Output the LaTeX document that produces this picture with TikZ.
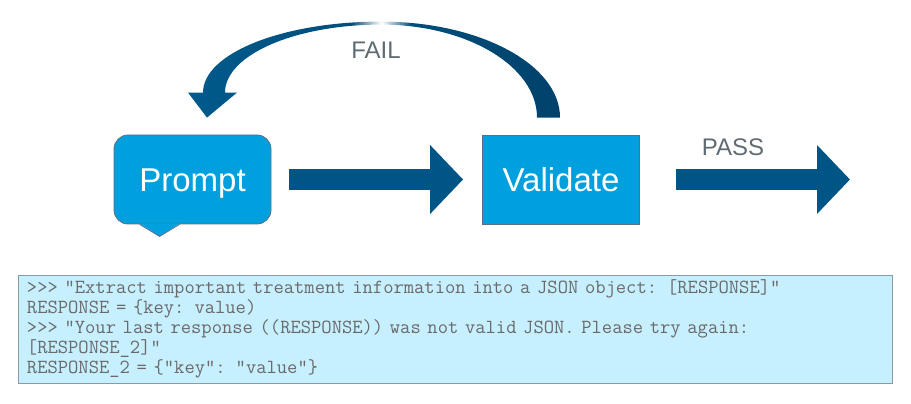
\documentclass[tikz,border=0pt]{standalone}
\usepackage{fontspec}
\setmainfont{Liberation Sans}
\usetikzlibrary{arrows.meta,positioning,calc}

\definecolor{boxblue}{HTML}{00A0DF}
\definecolor{boxline}{HTML}{5B7083}
\definecolor{arrowblue}{HTML}{005587}
\definecolor{arcleft}{HTML}{005A8C}
\definecolor{arcmid}{HTML}{004E7C}
\definecolor{arcright}{HTML}{00426B}
\definecolor{labelgray}{HTML}{5F6B73}
\definecolor{codefill}{HTML}{C6EFFF}
\definecolor{codeline}{HTML}{8A9BA5}
\definecolor{codetext}{HTML}{6A6A6A}
\pgfdeclarehorizontalshading{failarc}{100bp}{color(0bp)=(arcleft); color(25bp)=(arcleft); color(47bp)=(arcmid); color(51bp)=(white); color(55bp)=(arcmid); color(75bp)=(arcright); color(100bp)=(arcright)}

\begin{document}
\begin{tikzpicture}[x=1pt,y=1pt,node distance=368.5pt,on grid,
    box/.style={draw=boxline,line width=0.8pt,fill=boxblue,text=white,minimum width=157pt,minimum height=89pt,text height=24pt,text depth=0pt,font=\fontsize{33}{40}\selectfont},
    bigarrow/.style={draw=arrowblue,line width=21pt,-{Triangle[length=33pt,width=67pt]}},
    lbl/.style={text=labelgray,font=\fontsize{24}{28}\selectfont},
    code/.style={draw=codeline,line width=0.8pt,fill=codefill,text=codetext,text width=856pt,inner xsep=9pt,minimum height=108pt,align=left,font=\ttfamily\fontsize{20}{20}\selectfont}]
  \useasboundingbox (0,0) rectangle (911,404);
  \node[box,rounded corners=14pt] (p) at (192.5,224.5) {Prompt};
  \node[box] (v) [right=of p] {Validate};
  % bubble tail
  \fill[boxblue] ($(p.south west)+(26pt,0.8pt)$) -- ++(20pt,-12.8pt) -- ++(20pt,12.8pt) -- cycle;
  \draw[boxline,line width=0.8pt] ($(p.south west)+(26pt,0)$) -- ++(20pt,-12pt) -- ++(20pt,12pt);
  \coordinate (out) at (850,224.5);
  \draw[bigarrow,shorten <=18pt,shorten >=19pt] (p) -- (v);
  \draw[bigarrow,shorten <=36pt] (v) -- (out);
  \node[lbl] (pass) at (733,257) {PASS};
  % loop back on fail
  \shade[shading=failarc] ($(v.north)+(-1pt,17pt)$)
    arc[start angle=0,end angle=90,x radius=179pt,y radius=96pt]
    arc[start angle=90,end angle=180,x radius=178pt,y radius=71pt]
    -- ++(-15pt,0) -- ++(19pt,-25pt) -- ++(30pt,25pt) -- ++(-12pt,0)
    arc[start angle=180,end angle=90,x radius=156pt,y radius=68pt]
    arc[start angle=90,end angle=0,x radius=156pt,y radius=93pt] -- cycle;
  \node[lbl] (fail) at (376,354) {FAIL};
  \node[code] (log) at (455,75) {>>> “Extract important treatment information into a JSON object: [RESPONSE]”\\
    RESPONSE = \{key: value)\\
    >>> “Your last response ((RESPONSE)) was not valid JSON. Please try again:\\{}[RESPONSE\_2]”\\
    RESPONSE\_2 = \{“key”: “value”\}};
\end{tikzpicture}
\end{document}
